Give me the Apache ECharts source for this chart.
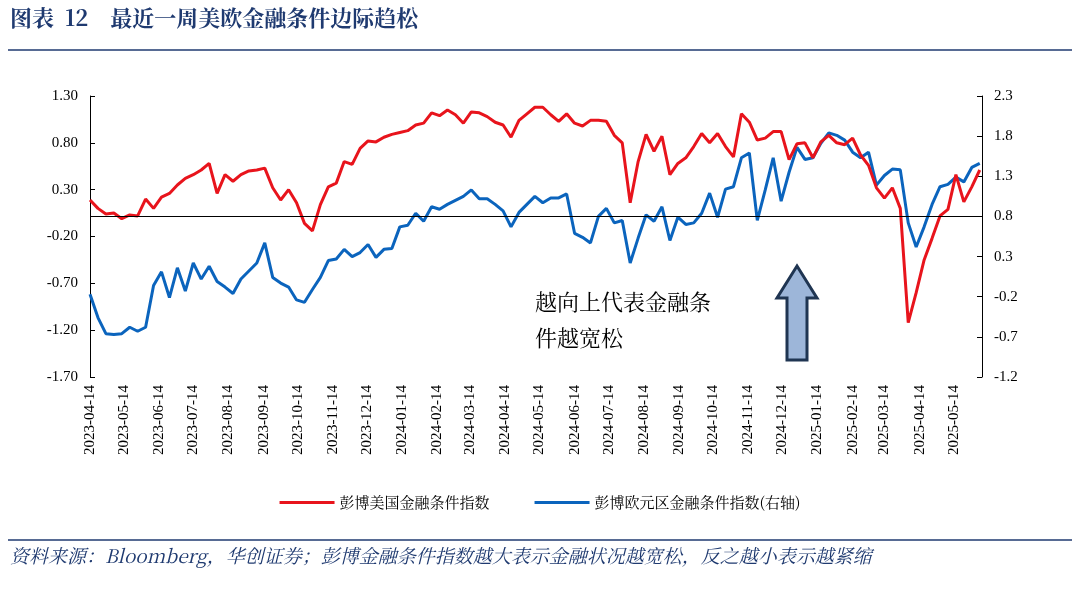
<!DOCTYPE html>
<html><head><meta charset="utf-8">
<script src="https://cdn.jsdelivr.net/npm/echarts@6/dist/echarts.min.js"></script>
<style>body{margin:0}#c{width:1080px;height:590px}</style></head>
<body><div id="c"></div>
<script>
const startDate = '2023-04-14';
const usIndex = [0.19,0.10,0.04,0.05,-0.01,0.03,0.02,0.20,0.10,0.22,0.26,0.35,0.42,0.46,0.51,0.58,0.26,0.46,0.39,0.46,0.50,0.51,0.53,0.32,0.19,0.30,0.16,-0.06,-0.14,0.14,0.33,0.37,0.60,0.57,0.74,0.82,0.81,0.86,0.89,
0.91,0.93,0.99,1.01,1.12,1.09,1.15,1.10,1.01,1.13,1.12,1.08,1.02,0.99,0.86,1.04,1.11,1.18,1.18,1.10,1.03,1.11,1.01,0.98,1.04,1.04,1.03,0.88,0.80,0.16,0.60,0.89,0.71,0.87,0.46,0.58,0.64,0.76,
0.90,0.80,0.90,0.76,0.65,1.11,1.02,0.83,0.85,0.92,0.92,0.62,0.79,0.80,0.64,0.81,0.88,0.80,0.78,0.85,0.67,0.56,0.32,0.21,0.32,0.10,-1.12,-0.80,-0.45,-0.22,0.02,0.09,0.46,0.17,0.33,0.51];
const euIndex = [-0.17,-0.46,-0.66,-0.67,-0.66,-0.58,-0.63,-0.58,-0.06,0.11,-0.21,0.16,-0.13,0.22,0.02,0.18,-0.01,-0.08,-0.16,0.02,0.12,0.22,0.47,0.04,-0.03,-0.08,-0.24,-0.27,-0.11,0.04,0.25,0.27,0.39,0.30,0.35,0.45,0.29,0.39,0.40,
0.67,0.69,0.84,0.74,0.92,0.89,0.95,1.00,1.05,1.13,1.02,1.02,0.95,0.87,0.67,0.85,0.95,1.05,0.97,1.03,1.03,1.08,0.59,0.54,0.47,0.80,0.90,0.72,0.75,0.22,0.53,0.82,0.74,0.92,0.50,0.79,0.70,0.72,
0.84,1.09,0.79,1.14,1.17,1.53,1.59,0.75,1.13,1.53,0.99,1.35,1.66,1.51,1.53,1.71,1.84,1.81,1.75,1.60,1.53,1.60,1.19,1.31,1.39,1.38,0.72,0.42,0.67,0.95,1.17,1.20,1.29,1.23,1.41,1.46];
const leftTicks = {min:-1.7,max:1.3,interval:0.5};
const rightTicks = {min:-1.2,max:2.3,interval:0.5};

function fmt(d){return d.toISOString().slice(0,10);}
const s0 = new Date(startDate+'T00:00:00Z');
const days=[];
for(let t=s0.getTime(); t<=Date.UTC(2025,5,8); t+=86400000) days.push(fmt(new Date(t)));
const wk = i => fmt(new Date(s0.getTime()+i*7*86400000));
const usData = usIndex.map((v,i)=>[wk(i),v]);
const euData = euIndex.map((v,i)=>[wk(i),v]);

const serif = '"Liberation Serif","Noto Serif CJK SC","Noto Sans CJK SC",serif';
const chart = echarts.init(document.getElementById('c'));
chart.setOption({
  animation:false,
  textStyle:{fontFamily:serif},
  grid:{left:90,right:98,top:96,bottom:213},
  xAxis:{type:'category',data:days,boundaryGap:false,
    axisLine:{show:false},axisTick:{show:false},splitLine:{show:false},
    axisLabel:{rotate:90,interval:(i,v)=>v.endsWith('-14'),fontSize:15,color:'#000',fontFamily:serif,margin:8}},
  yAxis:[
    {type:'value',...leftTicks,splitLine:{show:false},axisLine:{show:true,lineStyle:{color:'#000'}},
     axisTick:{show:true,inside:true},axisLabel:{formatter:v=>v.toFixed(2),fontSize:15,color:'#000',margin:12}},
    {type:'value',...rightTicks,splitLine:{show:false},axisLine:{show:true,lineStyle:{color:'#000'}},
     axisTick:{show:true,inside:true},axisLabel:{formatter:v=>v.toFixed(1),fontSize:15,color:'#000',margin:12}}
  ],
  legend:{bottom:75,left:'center',itemGap:45,itemWidth:55,itemHeight:3,
    textStyle:{fontSize:15,color:'#000',fontFamily:'"Noto Serif CJK SC","Noto Sans CJK SC",serif'},
    data:[{name:'彭博美国金融条件指数',icon:'rect'},{name:'彭博欧元区金融条件指数(右轴)',icon:'rect'}]},
  series:[
    {name:'彭博美国金融条件指数',type:'line',data:usData,yAxisIndex:0,symbol:'none',
     lineStyle:{color:'#e8141c',width:3},itemStyle:{color:'#e8141c'},z:3},
    {name:'彭博欧元区金融条件指数(右轴)',type:'line',data:euData,yAxisIndex:1,symbol:'none',
     lineStyle:{color:'#0b64bd',width:3},itemStyle:{color:'#0b64bd'},z:2,
     markLine:{silent:true,symbol:'none',label:{show:false},lineStyle:{color:'#000',width:1,type:'solid'},data:[{yAxis:0.8}]}}
  ],
  graphic:[
    {type:'text',left:10,top:7,style:{text:'图表  12    最近一周美欧金融条件边际趋松',font:'bold 22px "Noto Serif CJK SC","Noto Sans CJK SC"',fill:'#1f3a70'}},
    {type:'line',shape:{x1:8,y1:50,x2:1072,y2:50},style:{stroke:'#1f3a70',lineWidth:1.5}},
    {type:'line',shape:{x1:8,y1:540,x2:1072,y2:540},style:{stroke:'#1f3a70',lineWidth:1.5}},
    {type:'text',left:10,top:546,style:{text:'资料来源：Bloomberg，华创证券；彭博金融条件指数越大表示金融状况越宽松，反之越小表示越紧缩',font:'italic 19px "Noto Serif CJK SC","Noto Sans CJK SC"',fill:'#1f3a70'}},
    {type:'text',left:535,top:284,style:{text:'越向上代表金融条\n件越宽松',font:'22px "Noto Serif CJK SC","Noto Sans CJK SC"',fill:'#000',lineHeight:36}},
    {type:'polygon',shape:{points:[[797,266],[817,298],[807,298],[807,360],[787,360],[787,298],[777,298]]},
     style:{fill:'#9db6d9',stroke:'#1f3552',lineWidth:3}}
  ]
});
</script></body></html>
